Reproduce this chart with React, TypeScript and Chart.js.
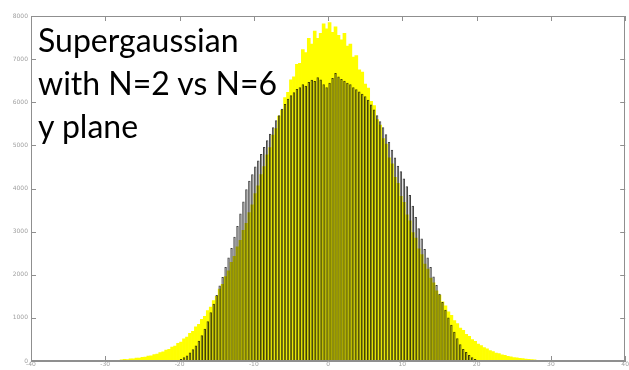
import React, { useEffect, useRef } from "react";
import { Chart, registerables } from "chart.js";

Chart.register(...registerables);

// Histogram bins (centres start at BIN_START, spaced BIN_WIDTH apart)
const BIN_START = -27.8;
const BIN_WIDTH = 0.4;

// N=2 supergaussian (yellow), bins -27.8 .. 27.8
const N2_COUNTS = [
  25, 36, 35, 50, 49, 66, 70, 88, 92, 115,
  122, 150, 160, 198, 210, 255, 270, 325, 345, 410,
  440, 515, 555, 640, 690, 790, 850, 965, 1035, 1170,
  1250, 1400, 1500, 1665, 1780, 1960, 2090, 2290, 2430, 2650,
  2800, 3030, 3195, 3440, 3620, 3880, 4060, 4320, 4510, 4780,
  4950, 5240, 5390, 5680, 5820, 6110, 6230, 6520, 6590, 6880,
  6900, 7220, 7150, 7480, 7350, 7650, 7480, 7600, 7820, 7700,
  7850, 7620, 7750, 7550, 7450, 7600, 7300, 7350, 7050, 7080,
  6750, 6700, 6420, 6330, 6020, 5920, 5600, 5470, 5160, 5030,
  4710, 4570, 4260, 4120, 3820, 3680, 3390, 3250, 2980, 2850,
  2600, 2470, 2250, 2130, 1920, 1810, 1630, 1530, 1370, 1280,
  1140, 1060, 940, 870, 765, 710, 620, 570, 495, 455,
  395, 360, 310, 282, 240, 220, 185, 170, 142, 130,
  106, 98, 80, 74, 60, 54, 44, 40, 31, 29,
];

// N=6 supergaussian (grey), first bin index into the same grid
const N6_FIRST_BIN = 19; // bin centre -20.2
const N6_COUNTS = [
  15, 45, 85, 130, 195, 270, 360, 470, 600, 750,
  920, 1130, 1330, 1530, 1750, 1950, 2180, 2400, 2620, 2880,
  3130, 3420, 3700, 3980, 4180, 4330, 4510, 4650, 4800, 4960,
  5120, 5270, 5420, 5580, 5700, 5850, 5960, 6080, 6160, 6230,
  6310, 6350, 6420, 6380, 6470, 6520, 6490, 6580, 6530, 6420,
  6350, 6450, 6560, 6680, 6600, 6540, 6500, 6450, 6420, 6350,
  6300, 6250, 6200, 6140, 6060, 5950, 5830, 5700, 5560, 5420,
  5260, 5080, 4900, 4720, 4530, 4400, 4230, 4050, 3850, 3600,
  3340, 3080, 2840, 2600, 2400, 2180, 1960, 1760, 1560, 1370,
  1190, 1010, 840, 680, 530, 390, 280, 210, 140, 85,
  45, 15,
];

const X_TICKS = [-40, -30, -20, -10, 0, 10, 20, 30, 40];
const Y_TICKS = [0, 1000, 2000, 3000, 4000, 5000, 6000, 7000, 8000];

const TITLE_LINES = ["Supergaussian", "with N=2 vs N=6", "y plane"];

const binCentre = (i: number) => Math.round((BIN_START + BIN_WIDTH * i) * 10) / 10;

const AXIS_COLOR = "#8f8f8f";
const TICK_TEXT = "#a0a0a0";

const boxPlugin = {
  id: "matlabBox",
  beforeDatasetsDraw(chart: any) {
    const { ctx, chartArea: a, scales } = chart;
    const x = scales.x;
    const y = scales.y;
    ctx.save();
    ctx.strokeStyle = AXIS_COLOR;
    ctx.lineWidth = 1;
    ctx.beginPath();
    X_TICKS.forEach((v) => {
      const px = Math.round(x.getPixelForValue(v)) + 0.5;
      ctx.moveTo(px, a.bottom);
      ctx.lineTo(px, a.bottom - 5);
      ctx.moveTo(px, a.top);
      ctx.lineTo(px, a.top + 5);
    });
    Y_TICKS.forEach((v) => {
      const py = Math.round(y.getPixelForValue(v)) + 0.5;
      ctx.moveTo(a.left, py);
      ctx.lineTo(a.left + 5, py);
      ctx.moveTo(a.right, py);
      ctx.lineTo(a.right - 5, py);
    });
    ctx.stroke();
    ctx.restore();
  },
  afterDatasetsDraw(chart: any) {
    const { ctx, chartArea: a } = chart;
    ctx.save();
    ctx.strokeStyle = AXIS_COLOR;
    ctx.lineWidth = 1;
    ctx.strokeRect(
      Math.round(a.left) + 0.5,
      Math.round(a.top) + 0.5,
      Math.round(a.right - a.left) - 1,
      Math.round(a.bottom - a.top) - 1
    );
    ctx.restore();
  },
};

export default function App() {
  const ref = useRef<HTMLCanvasElement | null>(null);

  useEffect(() => {
    if (!ref.current) return;
    const n2 = N2_COUNTS.map((v, i) => ({ x: binCentre(i), y: v }));
    const n6 = N6_COUNTS.map((v, i) => ({ x: binCentre(i + N6_FIRST_BIN), y: v }));

    const chart = new Chart(ref.current, {
      type: "bar",
      data: {
        datasets: [
          {
            label: "N=6",
            data: n6,
            backgroundColor: "rgba(110,110,110,0.45)",
            borderColor: "rgba(0,0,0,0.75)",
            borderWidth: 1,
            borderSkipped: false,
            barPercentage: 0.82,
            categoryPercentage: 1,
            grouped: false,
          },
          {
            label: "N=2",
            data: n2,
            backgroundColor: "#ffff00",
            borderWidth: 0,
            barPercentage: 1,
            categoryPercentage: 1,
            grouped: false,
          },
        ],
      },
      options: {
        responsive: false,
        animation: false,
        events: [],
        layout: { padding: { top: 16, right: 3, left: 0, bottom: 0 } },
        plugins: {
          legend: { display: false },
          tooltip: { enabled: false },
          title: { display: false },
        },
        scales: {
          x: {
            type: "linear",
            min: -40,
            max: 40,
            offset: false,
            afterBuildTicks: (s: any) => {
              s.ticks = X_TICKS.map((v) => ({ value: v }));
            },
            afterFit: (s: any) => {
              s.height = 9;
            },
            ticks: {
              color: TICK_TEXT,
              font: { size: 6, family: "DejaVu Sans" },
              padding: 0,
              maxRotation: 0,
              autoSkip: false,
              callback: (v: any) => String(v),
            },
            grid: { display: false, drawTicks: false, offset: false },
            border: { display: true, color: AXIS_COLOR },
          },
          y: {
            min: 0,
            max: 8000,
            afterBuildTicks: (s: any) => {
              s.ticks = Y_TICKS.map((v) => ({ value: v }));
            },
            afterFit: (s: any) => {
              s.width = 31;
            },
            ticks: {
              color: TICK_TEXT,
              font: { size: 6, family: "DejaVu Sans" },
              padding: 3,
              autoSkip: false,
              callback: (v: any) => String(v),
            },
            grid: { display: false, drawTicks: false },
            border: { display: true, color: AXIS_COLOR },
          },
        },
      },
      plugins: [boxPlugin],
    } as any);

    return () => chart.destroy();
  }, []);

  return (
    <div
      style={{
        position: "fixed",
        left: 0,
        top: 0,
        width: 629,
        height: 370,
        background: "#ffffff",
        overflow: "hidden",
      }}
    >
      <canvas ref={ref} width={629} height={370} style={{ display: "block" }} />
      <div
        style={{
          position: "absolute",
          left: 38,
          top: 18,
          fontFamily: "Lato, 'Open Sans', sans-serif",
          fontSize: 32,
          lineHeight: "43px",
          color: "#000000",
          whiteSpace: "nowrap",
        }}
      >
        {TITLE_LINES.map((t) => (
          <div key={t}>{t}</div>
        ))}
      </div>
    </div>
  );
}
